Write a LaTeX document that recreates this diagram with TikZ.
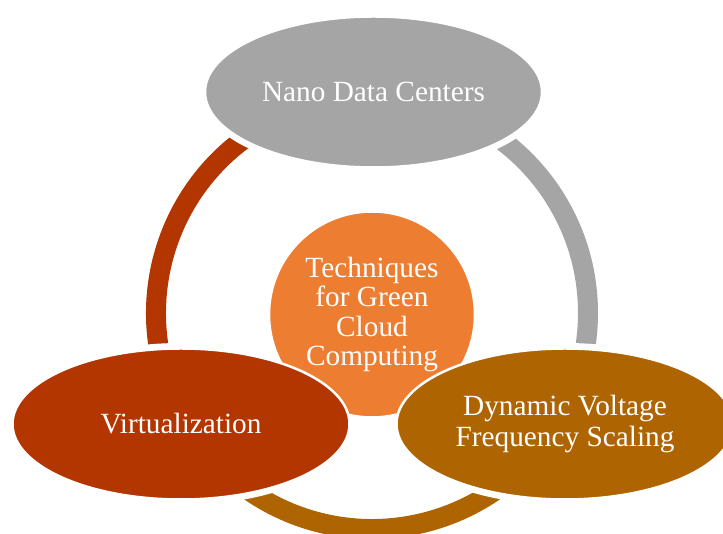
\documentclass[tikz,border=0pt]{standalone}
\usepackage{fontspec}
\setmainfont{Liberation Serif}
\usetikzlibrary{shapes.geometric}
\definecolor{nanogray}{HTML}{A5A5A5}
\definecolor{coreorange}{HTML}{ED7D31}
\definecolor{virtred}{HTML}{B33500}
\definecolor{dvfsbrown}{HTML}{AE6400}
\tikzset{
  topic/.style={ellipse,draw=white,line width=2.5pt,minimum width=337pt,minimum height=151pt,
    inner sep=0pt,text=white,align=center,font=\fontsize{29.3}{31}\selectfont},
  core/.style={circle,draw=white,line width=2.5pt,fill=coreorange,minimum size=206pt,
    inner sep=0pt,text=white,align=center,font=\fontsize{29.3}{29.5}\selectfont}
}
\begin{document}
\begin{tikzpicture}[x=1pt,y=1pt]
\useasboundingbox (0,0) rectangle (723,534);
\coordinate (mid) at (372,221);
\coordinate (nanopos) at (373.5,442);
\coordinate (virtpos) at (181,110);
\coordinate (dvfspos) at (565,110);

% ring
\foreach \a/\b/\c in {90/-30/nanogray,-30/-150/dvfsbrown,210/90/virtred}
{
    \draw[\c,line width=20pt] ([shift={(mid)}]\a:216pt) arc (\a:\b:216pt);
}
\foreach \p in {nanopos,virtpos,dvfspos}
{
    \fill[white] (\p) ellipse (174pt and 81pt);
}

\node[core] (core) at ([yshift=-1.5pt]mid) {Techniques\\for Green\\Cloud\\Computing};
\node[topic,fill=nanogray] (nano) at (nanopos) {Nano Data Centers};
\node[topic,fill=virtred] (virt) at (virtpos) {Virtualization};
\node[topic,fill=dvfsbrown] (dvfs) at (dvfspos) {Dynamic Voltage\\Frequency Scaling};
\end{tikzpicture}
\end{document}
